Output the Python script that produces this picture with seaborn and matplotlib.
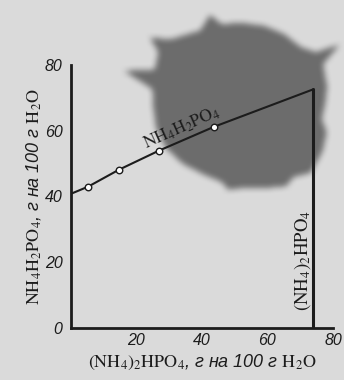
import numpy as np
import pandas as pd
import matplotlib
matplotlib.use("Agg")
import matplotlib.pyplot as plt
import seaborn as sns
from matplotlib.path import Path

# Solubility isotherm, NH4H2PO4 - (NH4)2HPO4 - H2O
dap_curve = [0.0, 5.3, 14.6, 26.8, 43.7, 74.0]      # (NH4)2HPO4, g / 100 g H2O
map_curve = [40.8, 43.0, 48.1, 53.9, 61.2, 72.6]    # NH4H2PO4, g / 100 g H2O
dap_measured = [5.3, 14.6, 26.8, 43.7]
map_measured = [43.0, 48.1, 53.9, 61.2]
eutonic_dap = [74.0, 74.0]
eutonic_map = [0.0, 72.6]
x_ticks = [20, 40, 60, 80]
y_ticks = [0, 20, 40, 60, 80]

sns.set_style("white")
plt.rcParams["font.family"] = ["Liberation Sans", "DejaVu Sans"]
plt.rcParams["mathtext.fontset"] = "stix"

W, H = 344, 380
paper = (0.855, 0.855, 0.855)
fig = plt.figure(figsize=(W / 100, H / 100), dpi=100, facecolor=paper)

# ink stain on the page, behind the plot
bg = fig.add_axes([0, 0, 1, 1], zorder=0)
bg.set_xlim(0, W)
bg.set_ylim(H, 0)
bg.axis("off")
cx, cy = 243, 105
stain = [(0, 82), (10, 80), (18, 88), (30, 92), (45, 96), (55, 88), (62, 92),
         (75, 86), (90, 83), (100, 86), (105, 80), (120, 80), (135, 84),
         (150, 88), (165, 90), (180, 90), (190, 92), (196, 124), (202, 95),
         (212, 100), (216, 115), (222, 98), (240, 86), (250, 96), (255, 84),
         (270, 82), (285, 82), (300, 82), (315, 82), (324, 90), (328, 114),
         (333, 90), (348, 86)]
ang = np.deg2rad([a for a, _ in stain])
rad = np.array([r for _, r in stain])
poly = np.column_stack([cx + rad * np.cos(ang), cy + rad * np.sin(ang)])
gx, gy = np.meshgrid(np.arange(W) + 0.5, np.arange(H) + 0.5)
mask = Path(poly).contains_points(np.column_stack([gx.ravel(), gy.ravel()])).reshape(H, W).astype(float)
k = 3
for _ in range(2):
    pad = np.pad(mask, k, mode="edge")
    acc = np.zeros_like(mask)
    for dy in range(-k, k + 1):
        for dx in range(-k, k + 1):
            acc += pad[k + dy:k + dy + H, k + dx:k + dx + W]
    mask = acc / (2 * k + 1) ** 2
rgba = np.zeros((H, W, 4))
rgba[..., :3] = 0.40
rgba[..., 3] = mask * 0.95
bg.imshow(rgba, extent=[0, W, H, 0], interpolation="bilinear", aspect="auto")

ax = fig.add_axes([0.206, 0.137, 0.762, 0.692], zorder=1)
ax.set_facecolor("none")

ink = "#1c1c1c"
curve = pd.DataFrame({"dap": dap_curve, "map": map_curve})
pts = pd.DataFrame({"dap": dap_measured, "map": map_measured})
sns.lineplot(data=curve, x="dap", y="map", ax=ax, color=ink, lw=1.5,
             sort=False, estimator=None)
sns.lineplot(x=eutonic_dap, y=eutonic_map, ax=ax, color=ink, lw=2.2,
             sort=False, estimator=None)
sns.scatterplot(data=pts, x="dap", y="map", ax=ax, s=22, facecolor="white",
                edgecolor=ink, linewidth=1.0, zorder=5)

ax.set_xlim(0, 80)
ax.set_ylim(0, 80)
ax.set_xticks(x_ticks)
ax.set_yticks(y_ticks)
ax.set_xticklabels([str(v) for v in x_ticks], fontstyle="italic", fontsize=11.5, color=ink)
ax.set_yticklabels([str(v) for v in y_ticks], fontstyle="italic", fontsize=11.5, color=ink)
ax.tick_params(axis="both", direction="in", length=4, width=1.2, color=ink)
ax.tick_params(axis="y", pad=6)
ax.tick_params(axis="x", pad=4)
for side in ("top", "right"):
    ax.spines[side].set_visible(False)
for side in ("left", "bottom"):
    ax.spines[side].set_color(ink)
    ax.spines[side].set_linewidth(2.0)

ax.set_xlabel(r"$\mathrm{(NH_4)_2HPO_4}$, г на 100 г $\mathrm{H_2O}$",
              fontsize=13, fontstyle="italic", color=ink, labelpad=3)
ax.set_ylabel(r"$\mathrm{NH_4H_2PO_4}$, г на 100 г $\mathrm{H_2O}$",
              fontsize=13, fontstyle="italic", color=ink, labelpad=1)

ax.text(34, 60.8, r"$\mathrm{NH_4H_2PO_4}$", rotation=24, fontsize=12.5,
        color=ink, ha="center", va="center", rotation_mode="anchor")
ax.text(70.6, 20.5, r"$\mathrm{(NH_4)_2HPO_4}$", rotation=90, fontsize=13.5,
        color=ink, ha="center", va="center")

fig.savefig("out.png", dpi=100, facecolor=paper)
